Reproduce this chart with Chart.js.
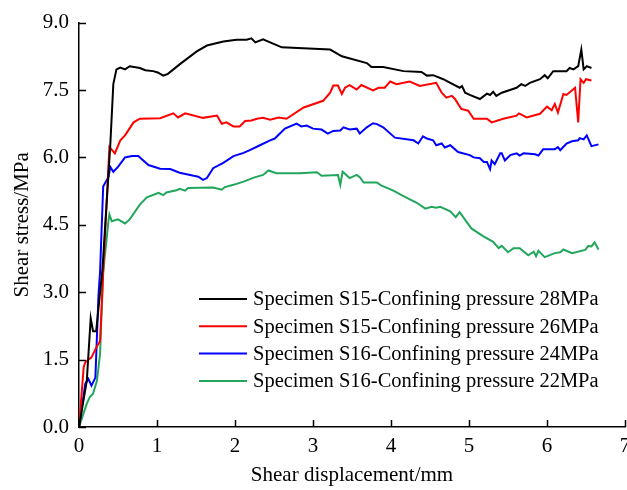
<!DOCTYPE html>
<html>
<head>
<meta charset="utf-8">
<script src="https://cdn.jsdelivr.net/npm/chart.js@4/dist/chart.umd.min.js"></script>
<style>
    html, body { margin: 0; padding: 0; background: #fff; }
    #wrap { width: 627px; height: 490px; }
</style>
</head>
<body>
<div id="wrap"><canvas id="chart"></canvas></div>
<script>
// S15, confining pressure 28MPa
const s15p28X = [0, 0.1, 0.15, 0.18, 0.22, 0.3, 0.4, 0.44, 0.48, 0.53, 0.59, 0.65, 0.78, 0.85, 0.95, 1.01, 1.08, 1.14, 1.29, 1.51, 1.64, 1.85, 2.02, 2.15, 2.21, 2.26, 2.36, 2.45, 2.6, 3.22, 3.37, 3.69, 3.75, 3.9, 4.16, 4.39, 4.46, 4.54, 4.67, 4.76, 4.88, 4.91, 4.95, 5.01, 5.14, 5.23, 5.27, 5.31, 5.35, 5.42, 5.61, 5.67, 5.72, 5.78, 5.91, 5.97, 6.01, 6.08, 6.25, 6.29, 6.34, 6.4, 6.44, 6.47, 6.51, 6.57];
const s15p28Y = [0, 1.03, 2.42, 2.13, 2.13, 3.5, 6.24, 7.63, 7.96, 8.0, 7.96, 8.03, 7.99, 7.94, 7.92, 7.89, 7.82, 7.86, 8.07, 8.36, 8.49, 8.58, 8.62, 8.62, 8.65, 8.56, 8.63, 8.56, 8.45, 8.4, 8.25, 8.1, 8.01, 8.01, 7.92, 7.9, 7.82, 7.83, 7.74, 7.66, 7.55, 7.59, 7.44, 7.39, 7.3, 7.42, 7.39, 7.46, 7.37, 7.44, 7.55, 7.63, 7.59, 7.66, 7.74, 7.83, 7.76, 7.92, 7.92, 7.99, 7.96, 8.03, 8.4, 7.96, 8.03, 7.99];

// S15, confining pressure 26MPa
const s15p26X = [0, 0.06, 0.08, 0.16, 0.23, 0.27, 0.31, 0.39, 0.46, 0.53, 0.59, 0.7, 0.78, 1.04, 1.21, 1.27, 1.36, 1.59, 1.77, 1.83, 1.89, 1.98, 2.06, 2.13, 2.21, 2.28, 2.36, 2.45, 2.56, 2.66, 2.88, 3.13, 3.22, 3.26, 3.32, 3.37, 3.41, 3.47, 3.56, 3.62, 3.77, 3.84, 3.92, 3.99, 4.07, 4.24, 4.37, 4.58, 4.65, 4.71, 4.78, 4.82, 4.9, 4.99, 5.06, 5.23, 5.29, 5.44, 5.61, 5.64, 5.74, 5.91, 6.0, 6.06, 6.1, 6.14, 6.21, 6.25, 6.36, 6.4, 6.43, 6.47, 6.5, 6.57];
const s15p26Y = [0, 1.33, 1.44, 1.55, 1.8, 1.91, 3.45, 6.23, 6.09, 6.38, 6.49, 6.78, 6.86, 6.87, 6.98, 6.89, 6.98, 6.88, 6.93, 6.75, 6.78, 6.69, 6.69, 6.81, 6.82, 6.86, 6.88, 6.84, 6.89, 6.86, 7.11, 7.26, 7.44, 7.6, 7.6, 7.41, 7.55, 7.61, 7.51, 7.61, 7.49, 7.55, 7.55, 7.69, 7.63, 7.69, 7.59, 7.66, 7.44, 7.33, 7.37, 7.3, 7.08, 7.04, 6.86, 6.86, 6.78, 6.86, 6.93, 6.98, 6.89, 6.97, 7.13, 7.05, 7.19, 7.0, 7.41, 7.39, 7.55, 6.78, 7.74, 7.66, 7.74, 7.71];

// S16, confining pressure 24MPa
const s16p24X = [0, 0.08, 0.12, 0.16, 0.21, 0.25, 0.27, 0.31, 0.38, 0.4, 0.44, 0.5, 0.59, 0.68, 0.76, 0.89, 1.04, 1.17, 1.29, 1.47, 1.53, 1.59, 1.64, 1.72, 1.85, 1.98, 2.11, 2.19, 2.32, 2.45, 2.51, 2.64, 2.79, 2.85, 2.92, 3.0, 3.11, 3.19, 3.26, 3.35, 3.39, 3.47, 3.56, 3.6, 3.69, 3.77, 3.82, 3.9, 4.05, 4.29, 4.35, 4.41, 4.46, 4.54, 4.58, 4.65, 4.69, 4.76, 4.86, 5.01, 5.06, 5.14, 5.19, 5.23, 5.27, 5.29, 5.33, 5.4, 5.42, 5.46, 5.53, 5.61, 5.65, 5.7, 5.85, 5.89, 5.95, 6.1, 6.14, 6.17, 6.25, 6.32, 6.4, 6.42, 6.47, 6.51, 6.57, 6.66];
const s16p24Y = [0, 0.96, 1.07, 0.92, 1.1, 2.94, 3.45, 5.35, 5.57, 5.79, 5.68, 5.79, 6.0, 6.03, 6.03, 5.83, 5.75, 5.74, 5.66, 5.59, 5.57, 5.5, 5.54, 5.76, 5.88, 6.03, 6.1, 6.16, 6.27, 6.38, 6.42, 6.64, 6.75, 6.69, 6.71, 6.64, 6.62, 6.53, 6.59, 6.6, 6.67, 6.62, 6.64, 6.53, 6.67, 6.76, 6.74, 6.67, 6.44, 6.38, 6.31, 6.47, 6.42, 6.38, 6.27, 6.31, 6.22, 6.27, 6.12, 6.05, 6.0, 5.98, 5.9, 5.9, 5.74, 5.93, 5.85, 6.09, 6.09, 5.93, 6.05, 6.09, 6.04, 6.09, 6.07, 6.04, 6.18, 6.18, 6.23, 6.16, 6.31, 6.36, 6.38, 6.43, 6.4, 6.49, 6.25, 6.29];

// S16, confining pressure 22MPa
const s16p22X = [0, 0.1, 0.14, 0.18, 0.23, 0.27, 0.31, 0.38, 0.39, 0.42, 0.5, 0.59, 0.65, 0.78, 0.87, 1.02, 1.08, 1.12, 1.25, 1.29, 1.36, 1.4, 1.72, 1.83, 1.87, 1.98, 2.02, 2.11, 2.24, 2.36, 2.43, 2.53, 2.83, 3.05, 3.11, 3.32, 3.35, 3.38, 3.47, 3.56, 3.6, 3.65, 3.82, 3.88, 4.03, 4.16, 4.33, 4.44, 4.52, 4.58, 4.63, 4.76, 4.83, 4.88, 5.03, 5.18, 5.31, 5.38, 5.42, 5.5, 5.57, 5.65, 5.76, 5.83, 5.86, 5.89, 5.97, 6.1, 6.17, 6.21, 6.32, 6.49, 6.53, 6.57, 6.61, 6.66];
const s16p22Y = [0, 0.52, 0.67, 0.74, 1.03, 1.63, 3.45, 4.62, 4.73, 4.58, 4.62, 4.53, 4.62, 4.95, 5.11, 5.21, 5.16, 5.22, 5.27, 5.3, 5.26, 5.32, 5.33, 5.28, 5.34, 5.39, 5.41, 5.46, 5.55, 5.61, 5.71, 5.65, 5.65, 5.67, 5.59, 5.61, 5.39, 5.68, 5.54, 5.61, 5.56, 5.44, 5.44, 5.37, 5.26, 5.14, 4.99, 4.86, 4.9, 4.88, 4.9, 4.8, 4.67, 4.78, 4.42, 4.25, 4.12, 3.98, 4.03, 3.89, 3.98, 3.98, 3.82, 3.9, 3.8, 3.92, 3.78, 3.87, 3.89, 3.95, 3.87, 3.94, 4.03, 4.02, 4.11, 3.95];

const seriesLabels = [
    "Specimen S15-Confining pressure 28MPa",
    "Specimen S15-Confining pressure 26MPa",
    "Specimen S16-Confining pressure 24MPa",
    "Specimen S16-Confining pressure 22MPa"
];
const seriesColors = ["#000000", "#ff0000", "#0000ff", "#21a65b"];

const FONT = "'Liberation Serif', 'Times New Roman', serif";

const toPoints = (xs, ys) => xs.map((x, i) => ({ x: x, y: ys[i] }));
const seriesPoints = [
    toPoints(s15p28X, s15p28Y),
    toPoints(s15p26X, s15p26Y),
    toPoints(s16p24X, s16p24Y),
    toPoints(s16p22X, s16p22Y)
];

// ticks pointing into the plot, like the original figure
const innerTicks = {
    id: "innerTicks",
    afterDatasetsDraw(chart) {
        const ctx = chart.ctx;
        const xs = chart.scales.x;
        const ys = chart.scales.y;
        ctx.save();
        ctx.strokeStyle = "#000";
        ctx.lineWidth = 1.5;
        ctx.beginPath();
        xs.ticks.forEach(t => {
            const px = Math.round(xs.getPixelForValue(t.value)) + 0.5;
            ctx.moveTo(px, ys.bottom);
            ctx.lineTo(px, ys.bottom - 7);
        });
        ys.ticks.forEach(t => {
            const py = Math.round(ys.getPixelForValue(t.value)) + 0.5;
            ctx.moveTo(xs.left, py);
            ctx.lineTo(xs.left + 7, py);
        });
        ctx.stroke();
        ctx.restore();
    }
};

// legend sitting inside the plot area
const innerLegend = {
    id: "innerLegend",
    afterDraw(chart) {
        const ctx = chart.ctx;
        ctx.save();
        ctx.font = "20.5px " + FONT;
        ctx.textBaseline = "middle";
        ctx.fillStyle = "#000";
        chart.data.datasets.forEach((ds, i) => {
            const y = 299 + i * 27.3;
            ctx.strokeStyle = ds.borderColor;
            ctx.lineWidth = 2;
            ctx.beginPath();
            ctx.moveTo(199, y);
            ctx.lineTo(247, y);
            ctx.stroke();
            ctx.fillText(ds.label, 253, y + 1);
        });
        ctx.restore();
    }
};

new Chart(document.getElementById("chart"), {
    type: "scatter",
    data: {
        datasets: seriesPoints.map((pts, i) => ({
            label: seriesLabels[i],
            data: pts,
            showLine: true,
            borderColor: seriesColors[i],
            backgroundColor: seriesColors[i],
            borderWidth: 2,
            pointRadius: 0,
            tension: 0
        }))
    },
    options: {
        responsive: true,
        maintainAspectRatio: false,
        animation: false,
        layout: { padding: { top: 18, right: 2, left: 0, bottom: 0 } },
        plugins: {
            legend: { display: false },
            tooltip: { enabled: false }
        },
        scales: {
            x: {
                type: "linear",
                min: 0,
                max: 7,
                grid: { display: false, drawTicks: false },
                border: { display: true, color: "#000", width: 1.5 },
                ticks: {
                    stepSize: 1,
                    color: "#000",
                    padding: 7,
                    maxRotation: 0,
                    font: { family: FONT, size: 21 }
                },
                title: {
                    display: true,
                    text: "Shear displacement/mm",
                    color: "#000",
                    padding: { top: 0, bottom: 2 },
                    font: { family: FONT, size: 21 }
                },
                afterFit(scale) {
                    scale.height = 63;
                    scale.paddingRight = 0;
                    scale.paddingLeft = 0;
                }
            },
            y: {
                min: 0,
                max: 9,
                grid: { display: false, drawTicks: false },
                border: { display: true, color: "#000", width: 1.5 },
                ticks: {
                    stepSize: 1.5,
                    color: "#000",
                    padding: 10,
                    font: { family: FONT, size: 21 },
                    callback: v => v.toFixed(1)
                },
                title: {
                    display: true,
                    text: "Shear stress/MPa",
                    color: "#000",
                    padding: { top: 10, bottom: 0 },
                    font: { family: FONT, size: 21 }
                },
                afterFit(scale) {
                    scale.width = 79;
                }
            }
        }
    },
    plugins: [innerTicks, innerLegend]
});
</script>
</body>
</html>
